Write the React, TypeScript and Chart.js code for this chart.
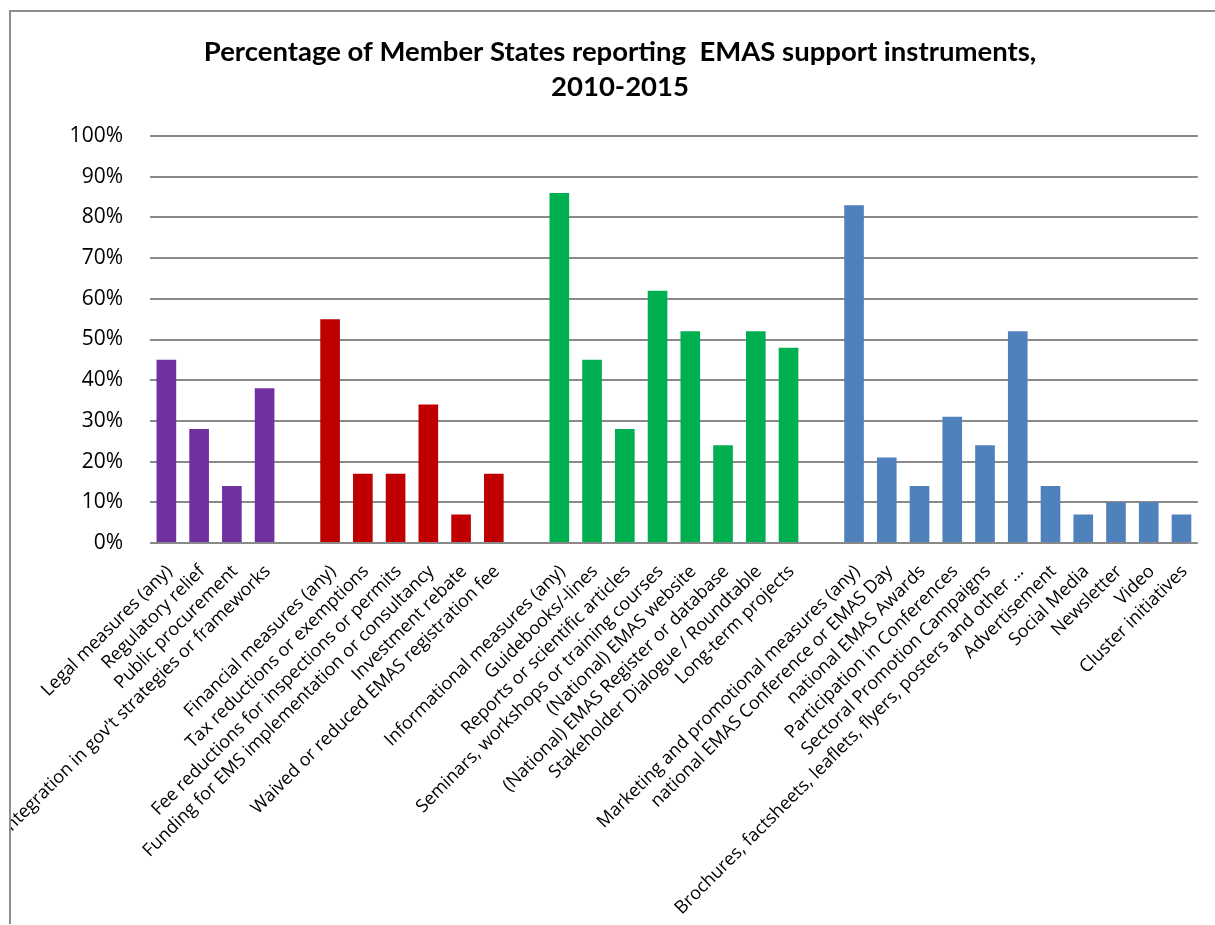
import React, { useEffect, useRef } from "react";
import { Chart, registerables } from "chart.js";

Chart.register(...registerables);

const titleLines = [
  "Percentage of Member States reporting  EMAS support instruments,",
  "2010-2015",
];

const legalLabels = [
  "Legal measures (any)",
  "Regulatory relief",
  "Public procurement",
  "Integration in gov't strategies or frameworks",
];
const legalValues = [45, 28, 14, 38];

const financialLabels = [
  "Financial measures (any)",
  "Tax reductions or exemptions",
  "Fee reductions for inspections or permits",
  "Funding for EMS implementation or consultancy",
  "Investment rebate",
  "Waived or reduced EMAS registration fee",
];
const financialValues = [55, 17, 17, 34, 7, 17];

const informationalLabels = [
  "Informational measures (any)",
  "Guidebooks/-lines",
  "Reports or scientific articles",
  "Seminars, workshops or training courses",
  "(National) EMAS website",
  "(National) EMAS Register or database",
  "Stakeholder Dialogue / Roundtable",
  "Long-term projects",
];
const informationalValues = [86, 45, 28, 62, 52, 24, 52, 48];

const marketingLabels = [
  "Marketing and promotional measures (any)",
  "national EMAS Conference or EMAS Day",
  "national EMAS Awards",
  "Participation in Conferences",
  "Sectoral Promotion Campaigns",
  "Brochures, factsheets, leaflets, flyers, posters and other …",
  "Advertisement",
  "Social Media",
  "Newsletter",
  "Video",
  "Cluster initiatives",
];
const marketingValues = [83, 21, 14, 31, 24, 52, 14, 7, 10, 10, 7];

const yTickValues = [0, 10, 20, 30, 40, 50, 60, 70, 80, 90, 100];

const groupColors = ["#7030A0", "#C00000", "#00B050", "#4F81BD"];

function buildData() {
  const groups = [
    { labels: legalLabels, values: legalValues },
    { labels: financialLabels, values: financialValues },
    { labels: informationalLabels, values: informationalValues },
    { labels: marketingLabels, values: marketingValues },
  ];
  const labels: string[] = [];
  const values: (number | null)[] = [];
  const colors: string[] = [];
  groups.forEach((g, gi) => {
    if (gi > 0) {
      labels.push("");
      values.push(null);
      colors.push("rgba(0,0,0,0)");
    }
    g.labels.forEach((l, i) => {
      labels.push(l);
      values.push(g.values[i]);
      colors.push(groupColors[gi]);
    });
  });
  return { labels, values, colors };
}

export default function App() {
  const ref = useRef<HTMLCanvasElement | null>(null);

  useEffect(() => {
    let chart: Chart | null = null;
    let cancelled = false;
    const make = () => {
      if (cancelled || !ref.current) return;
      const { labels, values, colors } = buildData();
      chart = new Chart(ref.current, {
        type: "bar",
        data: {
          labels,
          datasets: [
            {
              data: values,
              backgroundColor: colors,
              barPercentage: 0.6,
              categoryPercentage: 1,
            },
          ],
        },
        options: {
          animation: false,
          responsive: false,
          layout: { padding: { left: 14, right: 0, top: 0, bottom: 0 } },
          plugins: {
            legend: { display: false },
            tooltip: { enabled: false },
            title: {
              display: true,
              text: titleLines,
              color: "#000",
              font: { family: "Lato", weight: "bold", size: 27.5, lineHeight: 35 / 27.5 },
              padding: { top: 22.5, bottom: 31.5 },
            },
          },
          scales: {
            x: {
              grid: { display: false, drawTicks: false },
              border: { display: false },
              ticks: {
                autoSkip: false,
                maxRotation: 45,
                minRotation: 45,
                color: "#000",
                padding: 18,
                labelOffset: 3,
                font: { family: "Open Sans", size: 18 },
              },
              afterFit: (s: any) => {
                s.height = 381;
              },
            },
            y: {
              min: 0,
              max: 100,
              afterBuildTicks: (s: any) => {
                s.ticks = yTickValues.map((v) => ({ value: v }));
              },
              ticks: {
                color: "#000",
                padding: 27,
                font: { family: "Open Sans", size: 21 },
                callback: (v: any) => v + "%",
              },
              grid: { color: "#898989", lineWidth: 2, drawTicks: false },
              border: { display: false },
              afterFit: (s: any) => {
                s.width = 125;
              },
            },
            yRightSpace: {
              position: "right",
              display: true,
              grid: { display: false, drawTicks: false },
              border: { display: false },
              ticks: { display: false },
              afterFit: (s: any) => {
                s.width = 16;
              },
            },
          },
        },
      });
    };
    const f: any = (document as any).fonts;
    if (f && f.load) {
      Promise.all([
        f.load('18px "Open Sans"'),
        f.load('bold 27px "Lato"'),
      ])
        .catch(() => {})
        .then(make);
    } else {
      make();
    }
    return () => {
      cancelled = true;
      if (chart) chart.destroy();
    };
  }, []);

  return (
    <div
      style={{
        position: "absolute",
        left: 9,
        top: 10,
        width: 1206,
        height: 914,
        borderTop: "2px solid #8e8e8e",
        borderLeft: "2px solid #8e8e8e",
        boxSizing: "border-box",
        overflow: "hidden",
        background: "#fff",
      }}
    >
      <canvas
        ref={ref}
        width={1204}
        height={912}
        style={{ display: "block", width: 1204, height: 912 }}
      />
    </div>
  );
}
